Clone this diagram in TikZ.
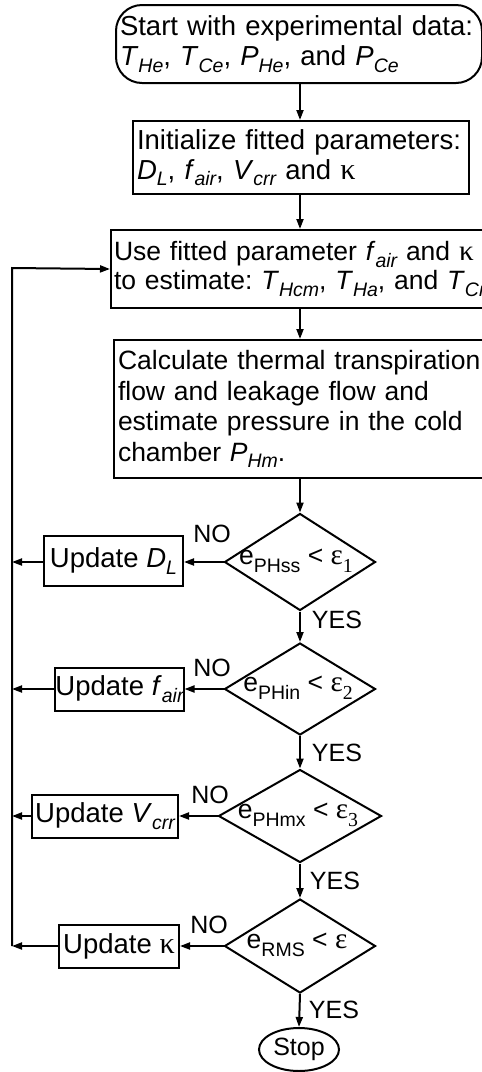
\documentclass[tikz,border=0pt]{standalone}
\usepackage{fontspec}
\setmainfont{Liberation Sans}
\newfontfamily\grk[Scale=1.1]{Liberation Serif}
\usetikzlibrary{shapes.geometric,arrows.meta}
\frenchspacing
\newcommand\sbI[1]{\raisebox{-6.5pt}{\fontsize{19.5}{19.5}\selectfont\itshape #1}}
\newcommand\sbU[1]{\raisebox{-8pt}{\fontsize{19.5}{19.5}\selectfont #1}}
\newcommand\sbG[1]{\raisebox{-8pt}{\fontsize{18}{18}\selectfont\grk #1}}
\tikzset{
  >={Triangle[length=10pt,width=7pt]},
  bigbox/.style={draw, rectangle, line width=2pt, inner ysep=0pt, inner xsep=4pt, align=left, anchor=north west, font=\fontsize{27.5}{30}\selectfont},
  updbox/.style={draw, rectangle, line width=2pt, inner sep=0pt, font=\fontsize{27.5}{30}\selectfont},
  dia/.style={draw, diamond, line width=2pt, inner sep=0pt},
  diatext/.style={inner sep=0pt, font=\fontsize{26.5}{30}\selectfont},
  lbl/.style={inner sep=0pt, font=\fontsize{25}{26}\selectfont},
  conn/.style={line width=2pt},
}
\begin{document}
\begin{tikzpicture}[x=1pt,y=-1pt]
\clip (0,0) rectangle (482,1072);
\coordinate (axis) at (300,0);
\coordinate (loopx) at (12,268);

\node[bigbox, rounded corners=26pt, text width=358pt, minimum height=78pt] (start) at (115,4)
 {Start with experimental data:\\\textit{T}\sbI{He}, \textit{T}\sbI{Ce}, \textit{P}\sbI{He}, and \textit{P}\sbI{Ce}};
\node[bigbox, text width=328pt, minimum height=73pt] (init) at (132,120)
 {Initialize fitted parameters:\\\textit{D}\sbI{L}, \textit{f}\sbI{air}, \textit{V}\sbI{crr} and {\grk κ}};
\node[bigbox, text width=400pt, minimum height=78pt, inner xsep=3pt, font=\fontsize{26.5}{29}\selectfont] (use) at (110,229)
 {Use fitted parameter \textit{f}\sbI{air} and {\grk κ}\\to estimate: \textit{T}\sbI{Hcm}, \textit{T}\sbI{Ha}, and \textit{T}\sbI{Cm}};
\node[bigbox, text width=392pt, minimum height=138pt, font=\fontsize{26.5}{30.5}\selectfont] (calc) at (113,339)
 {Calculate thermal transpiration\\flow and leakage flow and\\estimate pressure in the cold\\chamber \textit{P}\sbI{Hm}.};

\node[dia, minimum width=151pt, minimum height=97pt] (d1) at (300,562) {};
\node[diatext] (t1) at (296,561) {e\sbU{PHss} < {\grk ε}\sbG{1}};
\node[dia, minimum width=151pt, minimum height=92pt] (d2) at (300,689) {};
\node[diatext] (t2) at (298,688) {e\sbU{PHin} < {\grk ε}\sbG{2}};
\node[dia, minimum width=163pt, minimum height=93pt] (d3) at (300,816) {};
\node[diatext] (t3) at (298,815) {e\sbU{PHmx} < {\grk ε}\sbG{3}};
\node[dia, minimum width=151pt, minimum height=94pt] (d4) at (300,946) {};
\node[diatext] (t4) at (297,945) {e\sbU{RMS} < {\grk ε}};

\node[updbox, minimum width=139pt, minimum height=50pt] (u1) at (113.5,561) {Update \textit{D}\sbI{L}};
\node[updbox, minimum width=127pt, minimum height=43pt] (u2) at (119.5,689) {Update \textit{f}\sbI{air}};
\node[updbox, minimum width=146pt, minimum height=43pt] (u3) at (105,816) {Update \textit{V}\sbI{crr}};
\node[updbox, minimum width=120pt, minimum height=43pt] (u4) at (119,946) {Update {\grk κ}};

\node[draw, ellipse, line width=2pt, minimum width=80pt, minimum height=43pt, inner sep=0pt, font=\fontsize{25}{26}\selectfont] (stop) at (299,1049.5) {Stop};

\node[lbl] (no1) at (212,534) {NO};
\node[lbl] (no2) at (212,668) {NO};
\node[lbl] (no3) at (210,795) {NO};
\node[lbl] (no4) at (209,925) {NO};
\node[lbl] (yes1) at (337,620) {YES};
\node[lbl] (yes2) at (337,753) {YES};
\node[lbl] (yes3) at (335,881) {YES};
\node[lbl] (yes4) at (334,1010) {YES};

\draw[conn,->] (axis |- start.south) -- (axis |- init.north);
\draw[conn,->] (axis |- init.south) -- (axis |- use.north);
\draw[conn,->] (axis |- use.south) -- (axis |- calc.north);
\draw[conn,->] (axis |- calc.south) -- (d1.north);
\draw[conn,->] (d1.south) -- (d2.north);
\draw[conn,->] (d2.south) -- (d3.north);
\draw[conn,->] (d3.south) -- (d4.north);
\draw[conn,->] (d4.south) -- (stop.north);

\draw[conn,->] (d1.west) -- (d1.west -| u1.east);
\draw[conn,->] (d2.west) -- (u2.east);
\draw[conn,->] (d3.west) -- (u3.east);
\draw[conn,->] (d4.west) -- (u4.east);

\draw[conn,->] (u1.west |- d1.west) -- (d1.west -| loopx);
\draw[conn,->] (u2.west) -- (u2.west -| loopx);
\draw[conn,->] (u3.west) -- (u3.west -| loopx);
\draw[conn,->] (u4.west) -- (u4.west -| loopx);
\draw[conn,->] (loopx |- u4.west) -- (loopx) -- (use.west);
\end{tikzpicture}
\end{document}
